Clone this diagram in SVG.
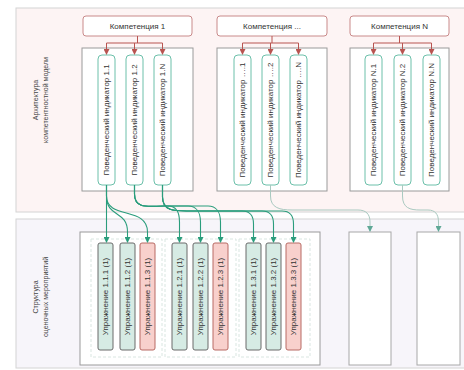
<svg xmlns="http://www.w3.org/2000/svg" width="464" height="370" viewBox="0 0 464 370">
  <defs>
    <marker id="arrRed" markerWidth="6" markerHeight="6" refX="5" refY="3" orient="auto" markerUnits="userSpaceOnUse">
      <path d="M0,0 L6,3 L0,6 Z" fill="#b85450"/>
    </marker>
    <marker id="arrGreen" markerWidth="6" markerHeight="6" refX="5" refY="3" orient="auto" markerUnits="userSpaceOnUse">
      <path d="M0,0 L6,3 L0,6 Z" fill="#2a9d7c"/>
    </marker>
    <marker id="arrGray" markerWidth="6" markerHeight="6" refX="5" refY="3" orient="auto" markerUnits="userSpaceOnUse">
      <path d="M0,0 L6,3 L0,6 Z" fill="#5fa896"/>
    </marker>
  </defs>
  <style>
    text { font-family: "Liberation Sans", Arial, sans-serif; font-size: 8px; fill: #333; }
    .section-top { fill: #fdf4f4; stroke: #d4d4d4; stroke-width: 1; }
    .section-bot { fill: #f7f5fa; stroke: #d4d4d4; stroke-width: 1; }
    .header { fill: #ffffff; stroke: #c98a8a; stroke-width: 1; }
    .container { fill: #ffffff; stroke: #9a9a9a; stroke-width: 1; }
    .pill { fill: #ffffff; stroke: #6cc0aa; stroke-width: 1; }
    .ex-green { fill: #d6ebe4; stroke: #6b6b6b; stroke-width: 1; }
    .ex-red { fill: #f8d0cc; stroke: #b86a64; stroke-width: 1; }
    .group { fill: none; stroke: #d9e6e1; stroke-width: 1; stroke-dasharray: 3 2; }
    .empty { fill: #ffffff; stroke: #a8a8a8; stroke-width: 1; }
    .lbl { font-size: 7px; fill: #444; }
    .e-red { fill: none; stroke: #b85450; stroke-width: 1; }
    .e-green { fill: none; stroke: #2a9d7c; stroke-width: 1.1; }
    .e-gray { fill: none; stroke: #a9c9c0; stroke-width: 1; }
  </style>

  <!-- section backgrounds -->
  <g id="section-architecture">
    <rect class="section-top" x="16" y="8" width="460" height="204"/>
    <text class="lbl" transform="translate(35,100) rotate(-90)" text-anchor="middle" dominant-baseline="central">Архитектура</text>
    <text class="lbl" transform="translate(45,100) rotate(-90)" text-anchor="middle" dominant-baseline="central">компетентностной модели</text>
  </g>
  <g id="section-structure">
    <rect class="section-bot" x="16" y="219" width="460" height="149"/>
    <text class="lbl" transform="translate(35,297) rotate(-90)" text-anchor="middle" dominant-baseline="central">Структура</text>
    <text class="lbl" transform="translate(45,297) rotate(-90)" text-anchor="middle" dominant-baseline="central">оценочных мероприятий</text>
  </g>

  <!-- competence 1 -->
  <g id="competence-1">
    <rect class="header" x="83" y="16" width="109" height="20" rx="3"/>
    <text x="137.5" y="26" text-anchor="middle" dominant-baseline="central">Компетенция 1</text>
    <rect class="container" x="82" y="48" width="111" height="143"/>
  </g>
  <g id="indicator-1-1">
    <rect class="pill" x="98" y="55" width="17" height="130" rx="4"/>
    <text transform="translate(106.5,120) rotate(-90)" text-anchor="middle" dominant-baseline="central">Поведенческий индикатор 1.1</text>
  </g>
  <g id="indicator-1-2">
    <rect class="pill" x="126" y="55" width="17" height="130" rx="4"/>
    <text transform="translate(134.5,120) rotate(-90)" text-anchor="middle" dominant-baseline="central">Поведенческий индикатор 1.2</text>
  </g>
  <g id="indicator-1-n">
    <rect class="pill" x="154" y="55" width="17" height="130" rx="4"/>
    <text transform="translate(162.5,120) rotate(-90)" text-anchor="middle" dominant-baseline="central">Поведенческий индикатор 1.N</text>
  </g>

  <!-- competence ... -->
  <g id="competence-mid">
    <rect class="header" x="217" y="16" width="110" height="20" rx="3"/>
    <text x="272" y="26" text-anchor="middle" dominant-baseline="central">Компетенция ...</text>
    <rect class="container" x="217" y="48" width="110" height="143"/>
  </g>
  <g id="indicator-m-1">
    <rect class="pill" x="234" y="55" width="17" height="130" rx="4"/>
    <text transform="translate(242.5,120) rotate(-90)" text-anchor="middle" dominant-baseline="central">Поведенческий индикатор ….1</text>
  </g>
  <g id="indicator-m-2">
    <rect class="pill" x="262" y="55" width="17" height="130" rx="4"/>
    <text transform="translate(270.5,120) rotate(-90)" text-anchor="middle" dominant-baseline="central">Поведенческий индикатор ….2</text>
  </g>
  <g id="indicator-m-n">
    <rect class="pill" x="290" y="55" width="17" height="130" rx="4"/>
    <text transform="translate(298.5,120) rotate(-90)" text-anchor="middle" dominant-baseline="central">Поведенческий индикатор ….N</text>
  </g>

  <!-- competence N -->
  <g id="competence-n">
    <rect class="header" x="350" y="16" width="99" height="20" rx="3"/>
    <text x="399.5" y="26" text-anchor="middle" dominant-baseline="central">Компетенция N</text>
    <rect class="container" x="350" y="48" width="99" height="143"/>
  </g>
  <g id="indicator-n-1">
    <rect class="pill" x="365" y="55" width="17" height="130" rx="4"/>
    <text transform="translate(373.5,120) rotate(-90)" text-anchor="middle" dominant-baseline="central">Поведенческий индикатор N.1</text>
  </g>
  <g id="indicator-n-2">
    <rect class="pill" x="394" y="55" width="17" height="130" rx="4"/>
    <text transform="translate(402.5,120) rotate(-90)" text-anchor="middle" dominant-baseline="central">Поведенческий индикатор N.2</text>
  </g>
  <g id="indicator-n-n">
    <rect class="pill" x="423" y="55" width="17" height="130" rx="4"/>
    <text transform="translate(431.5,120) rotate(-90)" text-anchor="middle" dominant-baseline="central">Поведенческий индикатор N.N</text>
  </g>

  <!-- exercise structure -->
  <g id="exercise-block">
    <rect class="container" x="80" y="232" width="240" height="133"/>
    <rect class="group" x="91" y="239" width="71" height="118"/>
    <rect class="group" x="165" y="239" width="71" height="118"/>
    <rect class="group" x="239" y="239" width="71" height="118"/>
  </g>
  <g id="exercise-1-1-1">
    <rect class="ex-green" x="98" y="243" width="15" height="107" rx="2"/>
    <text transform="translate(105.5,296.5) rotate(-90)" text-anchor="middle" dominant-baseline="central">Упражнение 1.1.1 (1)</text>
  </g>
  <g id="exercise-1-1-2">
    <rect class="ex-green" x="120" y="243" width="15" height="107" rx="2"/>
    <text transform="translate(127.5,296.5) rotate(-90)" text-anchor="middle" dominant-baseline="central">Упражнение 1.1.2 (1)</text>
  </g>
  <g id="exercise-1-1-3">
    <rect class="ex-red" x="140" y="243" width="15" height="107" rx="2"/>
    <text transform="translate(147.5,296.5) rotate(-90)" text-anchor="middle" dominant-baseline="central">Упражнение 1.1.3 (1)</text>
  </g>
  <g id="exercise-1-2-1">
    <rect class="ex-green" x="172" y="243" width="15" height="107" rx="2"/>
    <text transform="translate(179.5,296.5) rotate(-90)" text-anchor="middle" dominant-baseline="central">Упражнение 1.2.1 (1)</text>
  </g>
  <g id="exercise-1-2-2">
    <rect class="ex-green" x="193" y="243" width="15" height="107" rx="2"/>
    <text transform="translate(200.5,296.5) rotate(-90)" text-anchor="middle" dominant-baseline="central">Упражнение 1.2.2 (1)</text>
  </g>
  <g id="exercise-1-2-3">
    <rect class="ex-red" x="213" y="243" width="15" height="107" rx="2"/>
    <text transform="translate(220.5,296.5) rotate(-90)" text-anchor="middle" dominant-baseline="central">Упражнение 1.2.3 (1)</text>
  </g>
  <g id="exercise-1-3-1">
    <rect class="ex-green" x="246" y="243" width="15" height="107" rx="2"/>
    <text transform="translate(253.5,296.5) rotate(-90)" text-anchor="middle" dominant-baseline="central">Упражнение 1.3.1 (1)</text>
  </g>
  <g id="exercise-1-3-2">
    <rect class="ex-green" x="266" y="243" width="15" height="107" rx="2"/>
    <text transform="translate(273.5,296.5) rotate(-90)" text-anchor="middle" dominant-baseline="central">Упражнение 1.3.2 (1)</text>
  </g>
  <g id="exercise-1-3-3">
    <rect class="ex-red" x="286" y="243" width="15" height="107" rx="2"/>
    <text transform="translate(293.5,296.5) rotate(-90)" text-anchor="middle" dominant-baseline="central">Упражнение 1.3.3 (1)</text>
  </g>
  <g id="exercise-mid">
    <rect class="empty" x="349" y="232" width="42" height="133"/>
  </g>
  <g id="exercise-n">
    <rect class="empty" x="417" y="232" width="43" height="133"/>
  </g>

  <!-- connectors -->
  <g id="connectors">
    <!-- competence headers to indicators -->
    <path class="e-red" d="M137.5,36 V43 M106.5,43 H162.5"/>
    <path class="e-red" d="M106.5,43 V54" marker-end="url(#arrRed)"/>
    <path class="e-red" d="M134.5,43 V54" marker-end="url(#arrRed)"/>
    <path class="e-red" d="M162.5,43 V54" marker-end="url(#arrRed)"/>

    <path class="e-red" d="M272,36 V43 M242.5,43 H298.5"/>
    <path class="e-red" d="M242.5,43 V54" marker-end="url(#arrRed)"/>
    <path class="e-red" d="M270.5,43 V54" marker-end="url(#arrRed)"/>
    <path class="e-red" d="M298.5,43 V54" marker-end="url(#arrRed)"/>

    <path class="e-red" d="M399.5,36 V43 M373.5,43 H431.5"/>
    <path class="e-red" d="M373.5,43 V54" marker-end="url(#arrRed)"/>
    <path class="e-red" d="M402.5,43 V54" marker-end="url(#arrRed)"/>
    <path class="e-red" d="M431.5,43 V54" marker-end="url(#arrRed)"/>

    <!-- indicator 1.1 to its exercises -->
    <path class="e-green" d="M106.5,185 V242" marker-end="url(#arrGreen)"/>
    <path class="e-green" d="M106.5,185 V196 C106.5,218 127.5,210 127.5,232 V242" marker-end="url(#arrGreen)"/>
    <path class="e-green" d="M106.5,185 V196 C106.5,220 147.5,206 147.5,232 V242" marker-end="url(#arrGreen)"/>

    <!-- indicator 1.2 to its exercises -->
    <path class="e-green" d="M134.5,185 V194 C134.5,210 150,206 164,206 H168 C176,206 179.5,212 179.5,222 V242" marker-end="url(#arrGreen)"/>
    <path class="e-green" d="M134.5,185 V194 C134.5,210 150,206 164,206 H188 C196,206 200.5,212 200.5,222 V242" marker-end="url(#arrGreen)"/>
    <path class="e-green" d="M134.5,185 V194 C134.5,210 150,206 164,206 H208 C216,206 220.5,212 220.5,222 V242" marker-end="url(#arrGreen)"/>

    <!-- indicator 1.N to its exercises -->
    <path class="e-green" d="M162.5,185 V197 C162.5,212 176,211 190,211 H242 C250,211 253.5,216 253.5,224 V242" marker-end="url(#arrGreen)"/>
    <path class="e-green" d="M162.5,185 V197 C162.5,212 176,211 190,211 H262 C270,211 273.5,216 273.5,224 V242" marker-end="url(#arrGreen)"/>
    <path class="e-green" d="M162.5,185 V197 C162.5,212 176,211 190,211 H282 C290,211 293.5,216 293.5,224 V242" marker-end="url(#arrGreen)"/>

    <!-- other competences to their exercise blocks -->
    <path class="e-gray" d="M270.5,185 V196 C270.5,208 280,210 292,210 H358 C366,210 370,214 370,222 V231" marker-end="url(#arrGray)"/>
    <path class="e-gray" d="M402.5,185 V196 C402.5,208 410,210 420,210 H428 C435,210 438.5,214 438.5,222 V231" marker-end="url(#arrGray)"/>
  </g>
</svg>
